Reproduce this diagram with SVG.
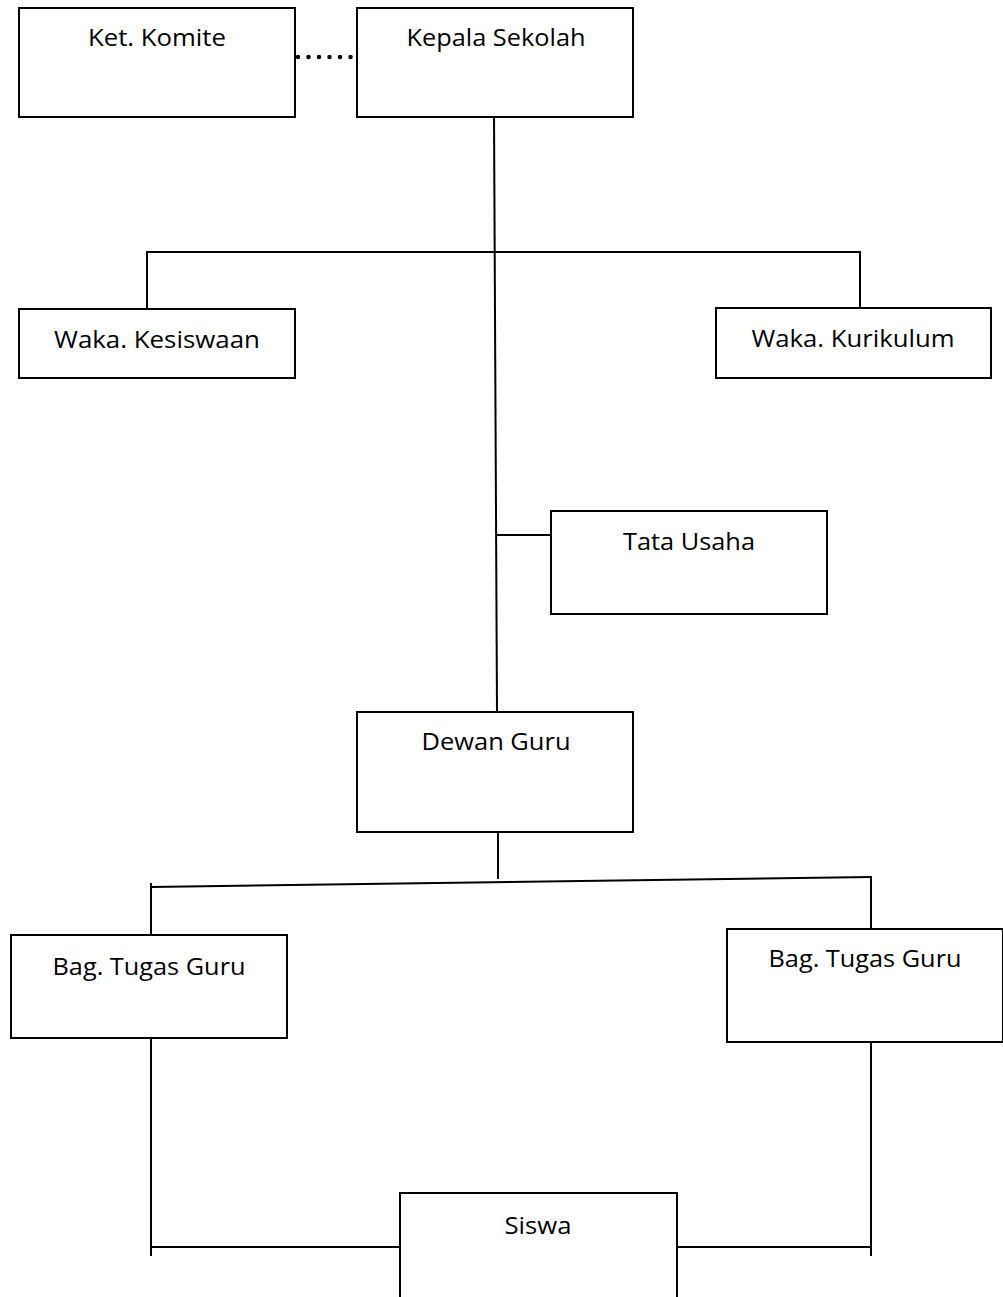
<svg xmlns="http://www.w3.org/2000/svg" width="1003" height="1297" viewBox="0 0 1003 1297">
<style>
.box{fill:#fff;stroke:#000;stroke-width:2}
.open{fill:none;stroke:#000;stroke-width:2}
.ln{fill:none;stroke:#000;stroke-width:2}
.dot{fill:none;stroke:#000;stroke-width:4.5;stroke-linecap:round;stroke-dasharray:0 10.5}
.t{font-family:"Open Sans","Noto Sans",sans-serif;font-size:23px;fill:#000;text-anchor:middle}
</style>
<rect width="1003" height="1297" fill="#fff"/>
<g id="connectors">
<line class="dot" x1="298" y1="57" x2="353" y2="57"/>
<line class="ln" x1="494" y1="114" x2="497" y2="712"/>
<polyline class="ln" points="147,309 147,252 860,252 860,308"/>
<line class="ln" x1="496" y1="535" x2="551" y2="535"/>
<line class="ln" x1="498" y1="826" x2="498" y2="879"/>
<line class="ln" x1="151" y1="887" x2="872" y2="877"/>
<line class="ln" x1="151" y1="883" x2="151" y2="935"/>
<line class="ln" x1="871" y1="876" x2="871" y2="929"/>
<line class="ln" x1="151" y1="1033" x2="151" y2="1256"/>
<line class="ln" x1="871" y1="1035" x2="871" y2="1256"/>
<line class="ln" x1="151" y1="1247" x2="400" y2="1247"/>
<line class="ln" x1="677" y1="1247" x2="871" y2="1247"/>
</g>
<g id="ket-komite">
<rect class="box" x="19" y="8" width="276" height="109"/>
<text class="t" x="157" y="46" textLength="138" lengthAdjust="spacingAndGlyphs">Ket. Komite</text>
</g>
<g id="kepala-sekolah">
<rect class="box" x="357" y="8" width="276" height="109"/>
<text class="t" x="496" y="46" textLength="179" lengthAdjust="spacingAndGlyphs">Kepala Sekolah</text>
</g>
<g id="waka-kesiswaan">
<rect class="box" x="19" y="309" width="276" height="69"/>
<text class="t" x="157" y="348" textLength="206" lengthAdjust="spacingAndGlyphs">Waka. Kesiswaan</text>
</g>
<g id="waka-kurikulum">
<rect class="box" x="716" y="308" width="275" height="70"/>
<text class="t" x="853" y="347" textLength="203" lengthAdjust="spacingAndGlyphs">Waka. Kurikulum</text>
</g>
<g id="tata-usaha">
<rect class="box" x="551" y="511" width="276" height="103"/>
<text class="t" x="689" y="550" textLength="132" lengthAdjust="spacingAndGlyphs">Tata Usaha</text>
</g>
<g id="dewan-guru">
<rect class="box" x="357" y="712" width="276" height="120"/>
<text class="t" x="496" y="750" textLength="149" lengthAdjust="spacingAndGlyphs">Dewan Guru</text>
</g>
<g id="bag-tugas-guru-1">
<rect class="box" x="11" y="935" width="276" height="103"/>
<text class="t" x="149" y="975" textLength="193" lengthAdjust="spacingAndGlyphs">Bag. Tugas Guru</text>
</g>
<g id="bag-tugas-guru-2">
<rect class="box" x="727" y="929" width="276" height="113"/>
<text class="t" x="865" y="967" textLength="193" lengthAdjust="spacingAndGlyphs">Bag. Tugas Guru</text>
</g>
<g id="siswa">
<path class="open" d="M400,1297 V1193 H677 V1297"/>
<text class="t" x="538" y="1234" textLength="67" lengthAdjust="spacingAndGlyphs">Siswa</text>
</g>
</svg>
